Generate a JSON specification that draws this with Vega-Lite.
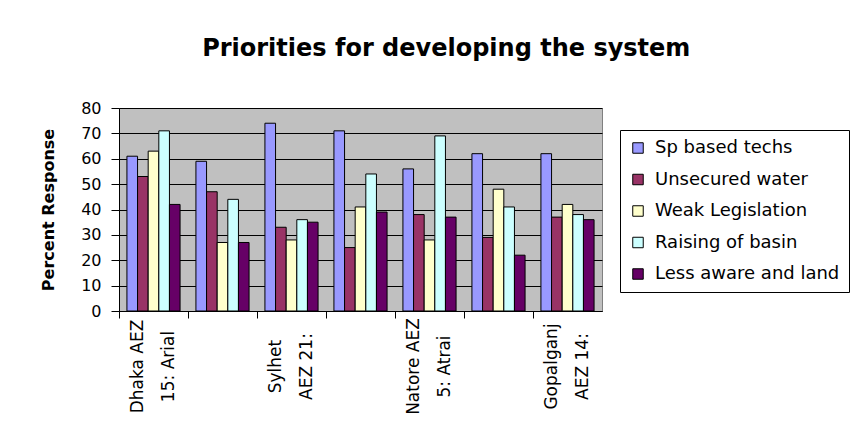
{
  "$schema": "https://vega.github.io/schema/vega-lite/v6.json",
  "padding": {"left": 40, "top": 36, "right": 5, "bottom": 5},
  "background": "white",
  "title": {
    "text": "Priorities for developing the system",
    "font": "DejaVu Sans",
    "fontSize": 24,
    "fontWeight": "bold",
    "color": "black",
    "anchor": "start",
    "baseline": "alphabetic",
    "dx": 162,
    "offset": 20
  },
  "data": {
    "values": [
      {"site": "Dhaka AEZ|15: Arial", "series": "Sp based techs", "value": 61},
      {"site": "Dhaka AEZ|15: Arial", "series": "Unsecured water", "value": 53},
      {"site": "Dhaka AEZ|15: Arial", "series": "Weak Legislation", "value": 63},
      {"site": "Dhaka AEZ|15: Arial", "series": "Raising of basin", "value": 71},
      {"site": "Dhaka AEZ|15: Arial", "series": "Less aware and land", "value": 42},
      {"site": "Location 2", "series": "Sp based techs", "value": 59},
      {"site": "Location 2", "series": "Unsecured water", "value": 47},
      {"site": "Location 2", "series": "Weak Legislation", "value": 27},
      {"site": "Location 2", "series": "Raising of basin", "value": 44},
      {"site": "Location 2", "series": "Less aware and land", "value": 27},
      {"site": "Sylhet|AEZ 21:", "series": "Sp based techs", "value": 74},
      {"site": "Sylhet|AEZ 21:", "series": "Unsecured water", "value": 33},
      {"site": "Sylhet|AEZ 21:", "series": "Weak Legislation", "value": 28},
      {"site": "Sylhet|AEZ 21:", "series": "Raising of basin", "value": 36},
      {"site": "Sylhet|AEZ 21:", "series": "Less aware and land", "value": 35},
      {"site": "Location 4", "series": "Sp based techs", "value": 71},
      {"site": "Location 4", "series": "Unsecured water", "value": 25},
      {"site": "Location 4", "series": "Weak Legislation", "value": 41},
      {"site": "Location 4", "series": "Raising of basin", "value": 54},
      {"site": "Location 4", "series": "Less aware and land", "value": 39},
      {"site": "Natore AEZ|5: Atrai", "series": "Sp based techs", "value": 56},
      {"site": "Natore AEZ|5: Atrai", "series": "Unsecured water", "value": 38},
      {"site": "Natore AEZ|5: Atrai", "series": "Weak Legislation", "value": 28},
      {"site": "Natore AEZ|5: Atrai", "series": "Raising of basin", "value": 69},
      {"site": "Natore AEZ|5: Atrai", "series": "Less aware and land", "value": 37},
      {"site": "Location 6", "series": "Sp based techs", "value": 62},
      {"site": "Location 6", "series": "Unsecured water", "value": 29},
      {"site": "Location 6", "series": "Weak Legislation", "value": 48},
      {"site": "Location 6", "series": "Raising of basin", "value": 41},
      {"site": "Location 6", "series": "Less aware and land", "value": 22},
      {"site": "Gopalganj|AEZ 14:", "series": "Sp based techs", "value": 62},
      {"site": "Gopalganj|AEZ 14:", "series": "Unsecured water", "value": 37},
      {"site": "Gopalganj|AEZ 14:", "series": "Weak Legislation", "value": 42},
      {"site": "Gopalganj|AEZ 14:", "series": "Raising of basin", "value": 38},
      {"site": "Gopalganj|AEZ 14:", "series": "Less aware and land", "value": 36}
    ]
  },
  "hconcat": [
    {
      "width": 483,
      "height": 203,
      "mark": {"type": "bar", "stroke": "black", "strokeWidth": 1},
      "encoding": {
        "x": {
          "field": "site",
          "type": "nominal",
          "sort": null,
          "scale": {"paddingInner": 0.23, "paddingOuter": 0.115},
          "axis": {
            "title": null,
            "bandPosition": -0.149,
            "labelOffset": -15.5,
            "labelAngle": -90,
            "labelAlign": "center",
            "labelBaseline": "middle",
            "labelPadding": 48,
            "labelLineHeight": 31,
            "labelExpr": "length(split(datum.value, '|')) > 1 ? split(datum.value, '|') : ''",
            "labelFont": "DejaVu Sans",
            "labelFontSize": 17,
            "labelColor": "black",
            "labelOverlap": false,
            "labelBound": false,
            "domainColor": "black",
            "tickColor": "black",
            "tickSize": 7,
            "grid": false
          }
        },
        "xOffset": {
          "field": "series",
          "type": "nominal",
          "sort": ["Sp based techs", "Unsecured water", "Weak Legislation", "Raising of basin", "Less aware and land"],
          "scale": {"paddingInner": 0, "paddingOuter": 0}
        },
        "y": {
          "field": "value",
          "type": "quantitative",
          "scale": {"domain": [0, 80], "nice": false},
          "axis": {
            "title": "Percent Response",
            "titleFont": "DejaVu Sans",
            "titleFontSize": 16,
            "titleFontWeight": "bold",
            "titleColor": "black",
            "titlePadding": 24,
            "values": [0, 10, 20, 30, 40, 50, 60, 70, 80],
            "labelFont": "DejaVu Sans",
            "labelFontSize": 16,
            "labelColor": "black",
            "labelPadding": 10,
            "tickSize": 8,
            "tickColor": "black",
            "domainColor": "black",
            "grid": true,
            "gridColor": "black",
            "gridDash": []
          }
        },
        "color": {
          "field": "series",
          "type": "nominal",
          "scale": {
            "domain": ["Sp based techs", "Unsecured water", "Weak Legislation", "Raising of basin", "Less aware and land"],
            "range": ["#9999FF", "#993366", "#FFFFCC", "#CCFFFF", "#660066"]
          },
          "legend": {
            "title": null,
            "orient": "none",
            "legendX": 501,
            "legendY": 22,
            "padding": 9,
            "strokeColor": "black",
            "fillColor": "white",
            "symbolType": "square",
            "symbolSize": 110,
            "symbolStrokeColor": "black",
            "symbolStrokeWidth": 1,
            "symbolOpacity": 1,
            "labelFont": "DejaVu Sans",
            "labelFontSize": 18,
            "labelColor": "black",
            "labelOffset": 8,
            "rowPadding": 13.5,
            "labelLimit": 400
          }
        }
      }
    }
  ],
  "config": {
    "view": {"fill": "#C0C0C0", "stroke": "#808080", "strokeWidth": 1},
    "axisY": {"gridOpacity": 1, "gridWidth": 1}
  }
}
